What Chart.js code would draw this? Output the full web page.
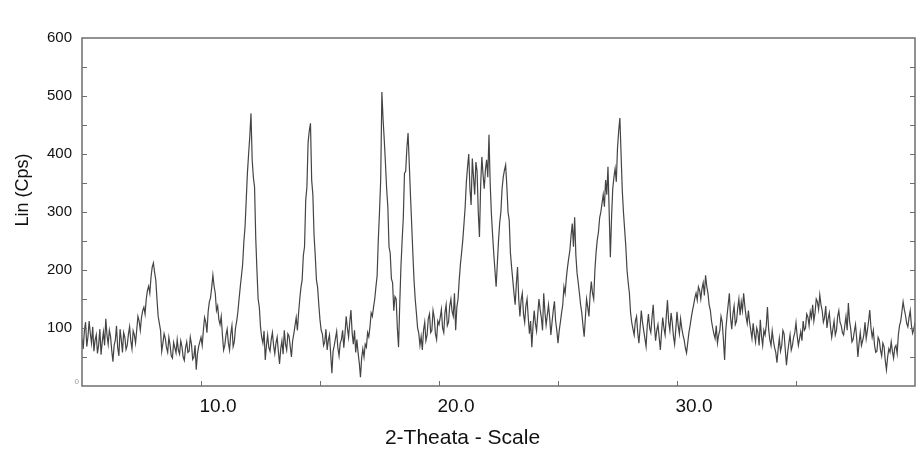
<!DOCTYPE html>
<html>
<head>
<meta charset="utf-8">
<title>XRD pattern</title>
<script src="https://cdn.jsdelivr.net/npm/chart.js@4.4.1/dist/chart.umd.min.js"></script>
<style>
	html, body { margin: 0; padding: 0; background: #fff; }
	#wrap { width: 924px; height: 452px; }
</style>
</head>
<body>
<div id="wrap"><canvas id="xrd_chart"></canvas></div>
<script>
// Scan settings (degrees 2-theta).
const scanStart = 5.0;
const scanStep = 0.05;

// Intensity (Cps), one row per degree (20 readings each).
const intensity = [
	82, 64, 95, 110, 68, 85, 112, 90, 74, 102, 60, 79, 88, 56, 71, 98, 54, 76, 93, 70,             // 5
	116, 88, 72, 96, 85, 61, 42, 70, 79, 104, 66, 52, 98, 80, 58, 92, 84, 63, 70, 89,              // 6
	102, 78, 64, 95, 88, 74, 97, 120, 112, 96, 118, 130, 136, 124, 150, 165, 172, 160, 188, 205,   // 7
	212, 196, 183, 150, 120, 108, 96, 60, 74, 90, 82, 66, 58, 84, 71, 52, 48, 75, 66, 57,          // 8
	80, 62, 55, 78, 68, 50, 44, 66, 76, 58, 60, 84, 72, 46, 50, 70, 28, 55, 68, 76,                // 9
	84, 70, 96, 118, 110, 92, 128, 145, 152, 170, 191, 172, 160, 130, 138, 115, 106, 120, 88, 62,  // 10
	70, 88, 98, 74, 62, 90, 104, 68, 76, 100, 112, 128, 150, 171, 190, 210, 248, 274, 320, 367,    // 11
	400, 430, 470, 390, 360, 343, 255, 200, 150, 136, 102, 84, 74, 95, 45, 70, 88, 66, 60, 80,     // 12
	92, 70, 56, 74, 84, 60, 38, 64, 78, 55, 96, 72, 62, 90, 86, 68, 50, 78, 90, 104,               // 13
	118, 96, 126, 150, 170, 183, 225, 240, 320, 343, 420, 440, 453, 355, 330, 260, 225, 183, 170, 140, // 14
	114, 96, 90, 70, 76, 98, 62, 79, 88, 54, 22, 60, 70, 82, 94, 66, 52, 74, 80, 96,               // 15
	66, 90, 120, 100, 84, 110, 131, 92, 72, 96, 58, 80, 57, 40, 15, 48, 64, 50, 72, 67,            // 16
	92, 85, 102, 126, 120, 136, 150, 171, 190, 252, 300, 355, 507, 460, 424, 384, 340, 309, 240, 229, // 17
	185, 178, 130, 154, 150, 100, 67, 140, 205, 250, 290, 367, 370, 410, 436, 384, 330, 281, 230, 183, // 18
	150, 126, 100, 91, 70, 85, 62, 96, 110, 78, 88, 116, 124, 92, 96, 130, 118, 90, 80, 112,       // 19
	106, 118, 132, 100, 92, 126, 140, 104, 110, 138, 150, 128, 120, 160, 96, 136, 150, 183, 210, 230, // 20
	252, 280, 309, 352, 378, 400, 340, 312, 392, 360, 330, 386, 370, 300, 257, 345, 395, 365, 340, 372, // 21
	390, 360, 433, 350, 298, 262, 229, 200, 171, 210, 250, 281, 300, 340, 360, 372, 381, 345, 300, 286, // 22
	230, 205, 183, 160, 140, 176, 205, 150, 120, 148, 160, 124, 110, 138, 150, 118, 90, 112, 67, 104,  // 23
	130, 108, 95, 124, 150, 132, 118, 96, 160, 128, 105, 122, 140, 118, 88, 110, 130, 146, 112, 96,    // 24
	74, 95, 110, 126, 140, 171, 160, 186, 205, 220, 234, 260, 280, 240, 291, 226, 195, 178, 160, 140,  // 25
	126, 104, 85, 118, 150, 136, 120, 158, 180, 160, 150, 200, 230, 252, 265, 290, 300, 315, 330, 309, // 26
	355, 330, 378, 300, 222, 290, 340, 360, 375, 352, 410, 440, 462, 400, 338, 300, 270, 240, 200, 178, // 27
	160, 126, 109, 98, 88, 112, 120, 92, 74, 100, 130, 110, 96, 82, 68, 104, 124, 100, 92, 118,    // 28
	140, 104, 78, 96, 106, 84, 62, 92, 118, 100, 88, 120, 148, 110, 96, 126, 110, 86, 72, 98,      // 29
	128, 104, 90, 116, 100, 88, 80, 66, 57, 74, 92, 104, 118, 130, 140, 152, 160, 148, 171, 165,   // 30
	150, 168, 178, 156, 191, 172, 160, 140, 131, 112, 100, 90, 82, 104, 74, 88, 96, 120, 110, 80,  // 31
	45, 96, 120, 140, 160, 118, 98, 124, 138, 106, 112, 134, 150, 122, 145, 130, 160, 138, 120, 108, // 32
	130, 110, 96, 82, 108, 90, 76, 100, 92, 70, 114, 86, 70, 96, 88, 104, 136, 98, 80, 70,         // 33
	95, 78, 66, 58, 40, 64, 82, 60, 70, 96, 90, 62, 36, 58, 74, 88, 62, 70, 84, 92,                // 34
	109, 86, 70, 82, 94, 78, 112, 96, 100, 124, 119, 104, 128, 118, 140, 112, 126, 150, 145, 132,  // 35
	157, 140, 130, 110, 118, 138, 100, 116, 126, 102, 84, 98, 112, 88, 96, 120, 130, 110, 104, 92, // 36
	88, 104, 120, 96, 143, 112, 98, 76, 80, 94, 106, 82, 50, 74, 92, 70, 78, 88, 110, 82,          // 37
	96, 112, 131, 100, 84, 96, 70, 58, 60, 84, 79, 62, 52, 74, 68, 44, 28, 50, 64, 58,             // 38
	76, 60, 48, 66, 70, 56, 88, 104, 112, 128, 145, 132, 122, 108, 102, 118, 130, 104, 91, 98,     // 39
	110                                                                                           // 40
];

const xMin = 5;
const xMax = 40;
const xStep = 5;
const xLabelled = [10, 20, 30];

const yMin = 0;
const yMax = 600;
const yStep = 50;

const FONT = "'Liberation Sans', Arial, sans-serif";
const LINE_COLOR = '#444444';
const FRAME_COLOR = '#6e6e6e';

const points = intensity.map((v, i) => ({ x: +(scanStart + i * scanStep).toFixed(2), y: v }));

// Box round the plot, inward tick marks, the small zero label and the axis titles.
const framePlugin = {
	id: 'frame',
	afterDraw(chart) {
		const ctx = chart.ctx;
		const area = chart.chartArea;
		const xs = chart.scales.x;
		const ys = chart.scales.y;
		const tick = 5;

		ctx.save();
		ctx.strokeStyle = FRAME_COLOR;
		ctx.lineWidth = 1.5;
		ctx.strokeRect(area.left, area.top, area.right - area.left, area.bottom - area.top);

		ctx.lineWidth = 1;
		ctx.beginPath();
		for (let v = yMin + yStep; v < yMax; v += yStep) {
			const py = Math.round(ys.getPixelForValue(v)) + 0.5;
			ctx.moveTo(area.left, py);
			ctx.lineTo(area.left + tick, py);
			ctx.moveTo(area.right, py);
			ctx.lineTo(area.right - tick, py);
		}
		for (let v = xMin + xStep; v < xMax; v += xStep) {
			const px = Math.round(xs.getPixelForValue(v)) + 0.5;
			ctx.moveTo(px, area.bottom);
			ctx.lineTo(px, area.bottom - tick);
		}
		ctx.stroke();

		ctx.fillStyle = '#999';
		ctx.textAlign = 'right';
		ctx.textBaseline = 'middle';
		ctx.font = `8px ${FONT}`;
		ctx.fillText('0', area.left - 3, ys.getPixelForValue(0) - 4);

		ctx.fillStyle = '#111';
		ctx.textAlign = 'center';
		ctx.font = `21px ${FONT}`;
		ctx.fillText('2-Theata - Scale', (area.left + area.right) / 2 - 36, 438);

		ctx.translate(23, area.top + 152);
		ctx.rotate(-Math.PI / 2);
		ctx.font = `18px ${FONT}`;
		ctx.fillText('Lin (Cps)', 0, 0);
		ctx.restore();
	}
};

function initChart() {
	const ctx = document.getElementById('xrd_chart').getContext('2d');
	new Chart(ctx, {
		type: 'line',
		data: {
			datasets: [{
				data: points,
				borderColor: LINE_COLOR,
				borderWidth: 1.2,
				pointRadius: 0,
				tension: 0,
				fill: false,
			}]
		},
		options: {
			responsive: true,
			maintainAspectRatio: false,
			animation: false,
			layout: {
				padding: { top: 38, right: 6, left: 0, bottom: 0 }
			},
			scales: {
				x: {
					type: 'linear',
					min: xMin,
					max: xMax,
					afterFit: (scale) => { scale.height = 66; },
					grid: { display: false, drawTicks: false },
					border: { display: false },
					ticks: {
						stepSize: xStep,
						autoSkip: false,
						maxRotation: 0,
						padding: 9,
						labelOffset: 17,
						color: '#111',
						font: { family: FONT, size: 19 },
						callback: (value) => xLabelled.includes(value) ? value.toFixed(1) : ''
					}
				},
				y: {
					min: yMin,
					max: yMax,
					afterFit: (scale) => { scale.width = 82; },
					grid: { display: false, drawTicks: false },
					border: { display: false },
					ticks: {
						stepSize: yStep,
						autoSkip: false,
						padding: 10,
						color: '#111',
						font: { family: FONT, size: 15 },
						callback: (value) => value % 100 === 0 && value !== 0 ? String(value) : ''
					}
				}
			},
			plugins: {
				legend: { display: false },
				tooltip: { enabled: false }
			}
		},
		plugins: [framePlugin]
	});
}

document.addEventListener('DOMContentLoaded', initChart);
</script>
</body>
</html>
